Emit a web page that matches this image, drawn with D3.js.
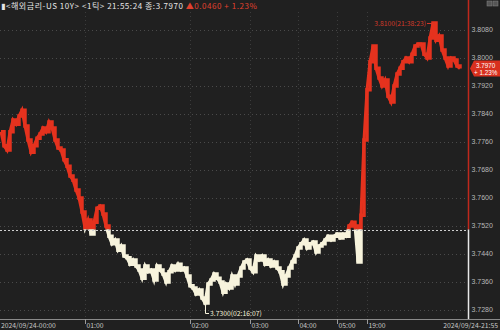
<!DOCTYPE html>
<html>
<head>
<meta charset="utf-8">
<script src="https://cdn.jsdelivr.net/npm/d3@7"></script>
<style>
  html, body { margin: 0; padding: 0; background: #202020; }
  svg { display: block; }
  text { font-family: "Noto Sans CJK KR", "DejaVu Sans", sans-serif; }
  text.num { font-family: "Liberation Sans", Arial, sans-serif; }
</style>
</head>
<body>
<div id="chart"></div>
<script>
// tick prices, one per tick index (US 10Y yield, 2024/09/24)
const prices = [
  3.7789, 3.7749, 3.7737, 3.7789, 3.7823, 3.7811, 3.7834, 3.7851, 3.7806, 3.7766,
  3.7731, 3.7749, 3.7771, 3.7783, 3.7800, 3.7789, 3.7817, 3.7800, 3.7766, 3.7743,
  3.7737, 3.7709, 3.7691, 3.7663, 3.7651, 3.7623, 3.7600, 3.7560, 3.7514, 3.7537,
  3.7497, 3.7531, 3.7571, 3.7577, 3.7554, 3.7520, 3.7491, 3.7469, 3.7480, 3.7451,
  3.7463, 3.7434, 3.7429, 3.7411, 3.7423, 3.7406, 3.7394, 3.7371, 3.7406, 3.7389,
  3.7394, 3.7366, 3.7406, 3.7394, 3.7383, 3.7360, 3.7389, 3.7406, 3.7394, 3.7411,
  3.7394, 3.7400, 3.7377, 3.7349, 3.7343, 3.7326, 3.7337, 3.7314, 3.7300, 3.7354,
  3.7366, 3.7383, 3.7371, 3.7360, 3.7331, 3.7354, 3.7343, 3.7377, 3.7354, 3.7377,
  3.7400, 3.7417, 3.7423, 3.7400, 3.7389, 3.7434, 3.7423, 3.7434, 3.7411, 3.7423,
  3.7406, 3.7417, 3.7400, 3.7389, 3.7354, 3.7377, 3.7400, 3.7417, 3.7434, 3.7457,
  3.7469, 3.7480, 3.7457, 3.7469, 3.7474, 3.7446, 3.7463, 3.7469, 3.7480, 3.7491,
  3.7480, 3.7491, 3.7497, 3.7486, 3.7497, 3.7491, 3.7520, 3.7531, 3.7520, 3.7417,
  3.7551, 3.7766, 3.7909, 3.7989, 3.8034, 3.7971, 3.7943, 3.7920, 3.7937, 3.7891,
  3.7874, 3.7920, 3.7954, 3.7971, 3.7989, 3.8000, 3.7989, 3.8011, 3.8034, 3.8040,
  3.8040, 3.8011, 3.8000, 3.8057, 3.8100, 3.8051, 3.8063, 3.8023, 3.8000, 3.7977,
  3.8000, 3.7994, 3.7977, 3.7970
];

// previous close (3.7970 - 0.0460)
const prevClose = 3.7510;

// hour marks on the time axis (tick index where each hour starts)
const hourLabels = ['01:00', '02:00', '03:00', '04:00', '05:00', '19:00'];
const hourIndex = [28, 63, 83, 99, 112, 122];
const firstLabel = '2024/09/24-00:00';
const lastLabel = '2024/09/24-21:55';

// price axis
const priceTicks = [3.7280, 3.7360, 3.7440, 3.7520, 3.7600, 3.7680, 3.7760, 3.7840, 3.7920, 3.8000, 3.8080];

// high / low markers
const highMark = { idx: 144, value: 3.8100, time: '21:38:23' };
const lowMark = { idx: 68, value: 3.7300, time: '02:16:07' };

// header
const headerName = '<해외금리-US 10Y>';
const headerPeriod = '<1틱>';
const headerTime = '21:55:24';
const lastPrice = 3.7970;
const change = 0.0460;
const changePct = 1.23;

const W = 500, H = 330;
const RED = '#e5321e', CREAM = '#f7f3dc';
const axisX = 468, axisY = 319;
const small = 6.8;

const svg = d3.select('#chart').append('svg')
  .attr('width', W)
  .attr('height', H);

svg.append('rect').attr('width', W).attr('height', H).attr('fill', '#202020');

// scales
const x = d3.scaleLinear().domain([0, prices.length - 1]).range([1, 460]);
const y = d3.scaleLinear().domain([3.7280, 3.8080]).range([310, 30]);
const baseY = y(prevClose);

// grid
svg.append('g')
  .selectAll('line')
  .data(priceTicks)
  .join('line')
  .attr('x1', 0).attr('x2', axisX)
  .attr('y1', d => Math.round(y(d)) + 0.5)
  .attr('y2', d => Math.round(y(d)) + 0.5)
  .attr('stroke', '#4a4a4a')
  .attr('stroke-dasharray', '1,3');

svg.append('g')
  .selectAll('line')
  .data(hourIndex)
  .join('line')
  .attr('x1', d => Math.round(x(d)) + 0.5).attr('x2', d => Math.round(x(d)) + 0.5)
  .attr('y1', 12).attr('y2', axisY)
  .attr('stroke', '#3c3c3c')
  .attr('stroke-dasharray', '1,3');

// price line split at the previous close
const defs = svg.append('defs');
defs.append('clipPath').attr('id', 'above')
  .append('rect').attr('x', 0).attr('y', 0).attr('width', axisX).attr('height', baseY);
defs.append('clipPath').attr('id', 'below')
  .append('rect').attr('x', 0).attr('y', baseY).attr('width', axisX).attr('height', H - baseY);

const stepLine = d3.line()
  .x((d, i) => x(i))
  .y(d => y(d))
  .curve(d3.curveStepAfter);
const plainLine = d3.line()
  .x((d, i) => x(i))
  .y(d => y(d));

[['above', RED], ['below', CREAM]].forEach(([clip, color]) => {
  const g = svg.append('g').attr('clip-path', `url(#${clip})`);
  g.append('path')
    .datum(prices)
    .attr('fill', 'none')
    .attr('stroke', color)
    .attr('stroke-width', 3.5)
    .attr('d', stepLine);
  g.append('path')
    .datum(prices)
    .attr('fill', 'none')
    .attr('stroke', color)
    .attr('stroke-width', 3)
    .attr('d', plainLine);
});

// previous close line
svg.append('line')
  .attr('x1', 0).attr('x2', axisX)
  .attr('y1', Math.round(baseY) + 0.5).attr('y2', Math.round(baseY) + 0.5)
  .attr('stroke', '#d0d0d0')
  .attr('stroke-dasharray', '2,2');

// right axis line, red above prev close, white below
svg.append('line')
  .attr('x1', axisX + 0.5).attr('x2', axisX + 0.5)
  .attr('y1', 0).attr('y2', baseY)
  .attr('stroke', '#c0281c').attr('stroke-width', 1.5);
svg.append('line')
  .attr('x1', axisX + 0.5).attr('x2', axisX + 0.5)
  .attr('y1', baseY).attr('y2', axisY)
  .attr('stroke', '#e8e8e8').attr('stroke-width', 1.5);

// price labels
svg.append('g')
  .selectAll('text')
  .data(priceTicks)
  .join('text')
  .attr('class', 'num')
  .attr('x', 471.5)
  .attr('y', d => y(d) + 2)
  .attr('fill', '#b8b8b8')
  .attr('font-size', 7)
  .text(d => d.toFixed(4));

// bottom axis
svg.append('line')
  .attr('x1', 0).attr('x2', W)
  .attr('y1', axisY + 0.5).attr('y2', axisY + 0.5)
  .attr('stroke', '#8a8a8a');

const hours = svg.append('g');
hours.selectAll('line')
  .data(hourIndex)
  .join('line')
  .attr('x1', d => Math.round(x(d)) + 0.5).attr('x2', d => Math.round(x(d)) + 0.5)
  .attr('y1', axisY).attr('y2', axisY + 5)
  .attr('stroke', '#9a9a9a');
hours.selectAll('text')
  .data(hourIndex)
  .join('text')
  .attr('x', d => x(d) + 1.5)
  .attr('y', 327.5)
  .attr('fill', '#c8c8c8')
  .attr('font-size', small)
  .text((d, i) => hourLabels[i]);

svg.append('text')
  .attr('x', 1).attr('y', 327.5)
  .attr('fill', '#c8c8c8').attr('font-size', small)
  .text(firstLabel);
svg.append('text')
  .attr('x', 498).attr('y', 327.5)
  .attr('text-anchor', 'end')
  .attr('fill', '#c8c8c8').attr('font-size', small)
  .text(lastLabel);

// high marker
const hx = x(highMark.idx), hy = y(highMark.value);
svg.append('line')
  .attr('x1', hx - 6).attr('x2', hx).attr('y1', hy + 0.5).attr('y2', hy + 0.5)
  .attr('stroke', '#d23a2a');
svg.append('text')
  .attr('x', hx - 7).attr('y', hy + 3)
  .attr('text-anchor', 'end')
  .attr('fill', '#d23a2a').attr('font-size', small)
  .text(`${highMark.value.toFixed(4)}(${highMark.time})`);

// low marker
const lx = x(lowMark.idx), ly = y(lowMark.value);
svg.append('path')
  .attr('d', `M${Math.round(lx) + 0.5},${ly + 2} V${ly + 10.5} H${lx + 4}`)
  .attr('fill', 'none')
  .attr('stroke', CREAM);
svg.append('text')
  .attr('x', lx + 5).attr('y', ly + 13)
  .attr('fill', CREAM).attr('font-size', small)
  .text(`${lowMark.value.toFixed(4)}(${lowMark.time})`);

// last price tag
const ty = y(lastPrice);
svg.append('path')
  .attr('d', `M${axisX + 2},${ty} L${axisX + 6},${ty - 8} H${W} V${ty + 8} H${axisX + 6} Z`)
  .attr('fill', '#d8301e');
svg.append('text')
  .attr('class', 'num')
  .attr('x', 476).attr('y', ty - 1)
  .attr('fill', '#fff').attr('font-size', 6.3)
  .text(lastPrice.toFixed(4));
svg.append('text')
  .attr('class', 'num')
  .attr('x', 474).attr('y', ty + 6.4)
  .attr('fill', '#fff').attr('font-size', 6.3)
  .text(`+ ${changePct.toFixed(2)}%`);

// header
const head = svg.append('text')
  .attr('x', 1).attr('y', 9)
  .attr('font-size', 8)
  .attr('letter-spacing', 0.55)
  .attr('fill', '#e6e6e6');
head.append('tspan').text(`▮${headerName} ${headerPeriod} ${headerTime} 종:${lastPrice.toFixed(4)} `);
head.append('tspan').attr('fill', '#e0402e')
  .text(`▲${change.toFixed(4)}  + ${changePct.toFixed(2)}%`);

// small window buttons top right
svg.append('g')
  .selectAll('rect')
  .data([487, 493])
  .join('rect')
  .attr('x', d => d).attr('y', 1)
  .attr('width', 5).attr('height', 5)
  .attr('fill', '#555').attr('stroke', '#888').attr('stroke-width', 0.5);
</script>
</body>
</html>
